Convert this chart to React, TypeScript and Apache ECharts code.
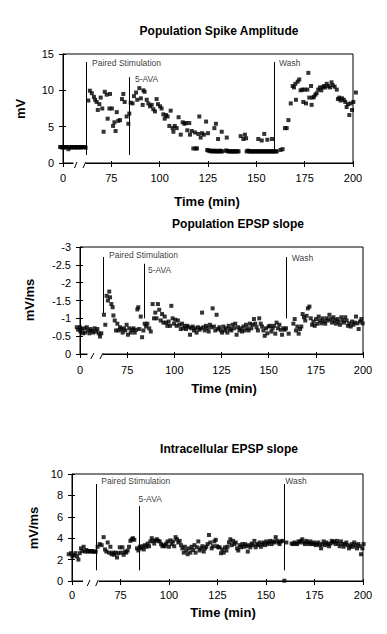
import React, { useEffect, useRef } from "react";
import * as echarts from "echarts";

const FONT = "Arial, 'Liberation Sans', sans-serif";

// x in displayed time units: 50 on the axis is labelled "0" (broken axis)
const xTickLabels: Record<number, string> = { 50: "0", 75: "75", 100: "100", 125: "125", 150: "150", 175: "175", 200: "200" };

const spikeData: [number, number][] = [
  [48.5,2.2],[49.1,2.2],[49.7,2.1],[50.3,2.2],[50.9,2.1],[51.5,2.2],[52.1,2.2],[52.8,1.9],[53.4,2.2],[54.0,2.1],[54.6,2.2],[55.2,2.2],[55.8,2.1],[56.4,2.2],[57.0,2.2],[57.6,2.1],[58.2,2.2],[58.8,2.2],[59.4,2.1],[60.0,2.2],[60.6,2.2],[61.2,2.2],[61.7,2.1],
  [63.1,8.6],[63.9,9.95],[64.9,9.6],[66.0,9.1],[66.6,8.7],[67.4,8.4],[68.0,7.3],[68.8,8.1],[69.5,9.0],[70.3,7.5],[71.0,4.3],[71.6,9.8],[72.6,9.4],[73.1,6.1],[74.3,9.5],[74.0,7.5],[75.3,7.5],[75.9,5.1],[76.6,5.6],[77.2,4.4],[77.8,7.0],[78.6,5.8],[79.5,5.9],[80.5,8.8],[81.2,9.5],[81.9,8.4],[82.9,6.4],[83.8,5.4],[84.3,6.8],[85.0,8.3],[86.0,8.2],[86.7,9.2],[87.8,9.7],[88.4,8.7],[89.5,10.3],[90.3,8.9],[91.2,8.0],[91.6,10.0],[92.2,9.8],[93.3,8.7],[94.1,8.2],[95.0,7.8],[95.9,8.0],[96.7,7.4],[97.6,7.1],[98.4,8.8],[99.1,8.1],[100.2,7.8],[101.0,7.5],[101.9,6.7],[102.6,6.1],[103.3,6.6],[104.1,6.4],[105.0,5.1],[105.7,7.2],[106.7,4.8],[107.1,4.3],[107.8,5.1],[108.8,4.8],[109.8,6.3],[110.9,3.9],[111.9,5.6],[112.8,5.4],[113.6,5.5],[114.3,4.5],[115.3,5.5],[115.7,3.9],[116.6,4.4],[117.4,2.0],[118.3,4.2],[118.6,2.0],[119.3,2.0],[120.0,4.0],[120.5,6.4],[121.2,3.5],[121.9,4.1],[122.9,3.9],[124.0,5.7],[125.0,4.1],
  [124.6,1.8],[125.2,1.7],[125.8,1.7],[126.4,1.6],[127.0,1.7],[127.6,1.6],[128.2,1.6],[128.8,1.7],[129.4,1.6],[130.0,1.6],[130.6,1.6],[131.2,1.7],[131.8,1.6],[132.4,1.6],
  [128.3,4.8],[129.1,5.4],[130.2,3.3],[132.1,4.3],[134.7,3.5],
  [134.2,1.7],[134.8,1.7],[135.4,1.6],[136.0,1.6],[136.6,1.6],[137.2,1.6],[137.8,1.6],[138.4,1.6],[139.0,1.6],[139.6,1.6],[140.2,1.6],[140.8,1.6],
  [141.9,3.7],[143.3,3.3],[144.1,3.9],[144.7,3.4],
  [145.0,1.6],[145.6,1.7],[146.2,1.6],[146.8,1.6],[147.4,1.6],[148.0,1.6],[148.6,1.6],[149.2,1.6],[149.8,1.6],[150.4,1.6],[151.0,1.6],[151.6,1.6],[152.2,1.6],[152.8,1.6],[153.4,1.6],[154.0,1.6],[154.6,1.6],[155.2,1.6],[155.8,1.6],[156.4,1.6],[157.0,1.6],[157.6,1.6],[158.2,1.6],[158.8,1.6],[159.4,1.6],[160.0,1.6],[160.6,1.6],
  [151.0,3.3],[152.8,3.1],[154.1,4.0],[155.7,3.2],[158.1,3.3],
  [162.5,1.8],[163.6,1.9],[164.8,4.8],[165.7,4.8],[166.6,5.9],[167.8,8.2],[168.8,10.6],[169.5,10.4],[170.2,10.9],[170.5,8.7],[171.4,11.2],[172.2,11.5],[172.9,10.0],[173.8,10.1],[174.3,8.4],[175.0,10.1],[175.7,8.2],[176.4,10.1],[176.9,12.4],[177.4,9.0],[178.3,10.6],[178.6,8.0],[179.1,9.0],[179.8,9.1],[180.5,9.4],[181.2,9.6],[182.0,10.1],[182.9,10.4],[183.6,10.0],[184.3,10.4],[185.0,10.6],[185.7,10.4],[186.4,10.9],[187.2,10.6],[188.1,10.4],[188.9,11.1],[189.5,10.7],[190.5,10.5],[191.6,10.1],[192.2,8.8],[192.9,9.0],[193.6,8.6],[194.3,8.9],[195.3,8.7],[196.0,8.4],[196.7,7.7],[197.4,8.1],[198.1,6.6],[198.8,8.2],[199.5,7.3],[200.2,8.4],[201.5,9.7],
];

const epspData: [number, number][] = [
  [48.3,-0.75],[49.0,-0.68],[50.0,-0.75],[50.3,-0.63],[50.9,-0.70],[51.6,-0.58],[52.3,-0.72],[52.7,-0.60],[53.6,-0.75],[54.3,-0.66],[55.0,-0.58],[55.6,-0.70],[56.3,-0.65],[57.0,-0.60],[57.7,-0.72],[58.5,-0.63],[59.2,-0.70],[59.9,-0.58],[60.6,-0.49],[61.3,-0.58],
  [62.7,-1.10],[63.4,-0.82],[64.1,-1.63],[64.8,-1.50],[65.5,-1.75],[65.9,-1.59],[66.6,-1.40],[67.3,-1.31],[67.7,-1.08],[68.4,-0.94],[69.1,-0.66],[69.8,-0.85],[70.5,-0.66],[71.2,-0.75],[71.9,-0.70],[72.6,-0.60],[73.3,-0.72],[74.0,-0.66],[74.7,-0.82],[75.4,-0.54],[76.1,-0.72],[76.9,-0.60],[77.6,-0.68],[78.3,-0.72],[79.0,-0.60],[79.7,-0.68],[80.4,-1.25],[80.9,-1.31],[81.4,-0.70],[82.2,-1.05],[82.9,-0.47],[83.6,-0.66],[84.3,-0.85],[85.0,-0.77],[85.7,-0.85],[86.7,-0.72],[87.5,-0.63],
  [88.5,-1.40],[89.2,-1.00],[89.9,-1.16],[90.6,-1.00],[91.3,-1.40],[92.0,-1.24],[92.8,-0.94],[93.5,-1.12],[94.2,-0.88],[94.9,-1.05],[95.6,-0.88],[96.3,-0.79],[97.0,-0.91],[97.7,-0.79],[98.4,-1.35],[99.1,-1.00],[99.8,-0.85],[100.5,-0.96],[101.2,-0.79],[101.9,-0.94],[102.7,-0.82],[103.4,-0.70],[104.1,-0.85],[104.8,-0.72],[105.5,-0.79],[106.2,-0.70],[106.9,-0.79],[107.6,-0.75],[108.3,-0.54],[109.0,-0.72],[109.7,-0.77],[110.4,-0.66],[111.1,-0.72],[111.8,-0.60],[112.5,-0.75],[113.3,-0.68],[114.0,-0.72],[114.7,-1.16],[115.4,-0.75],[116.1,-0.66],[116.8,-0.79],[117.5,-0.72],[118.2,-0.63],[118.9,-0.82],[119.6,-0.75],[120.3,-1.28],[121.0,-0.77],[121.7,-0.66],[122.4,-1.10],[123.1,-0.70],[123.9,-0.75],[124.6,-0.66],
  [125.3,-0.60],[126.0,-0.77],[126.7,-0.66],[127.4,-0.72],[128.1,-0.60],[128.8,-0.79],[129.5,-0.70],[130.2,-0.66],[130.9,-0.82],[131.6,-0.72],[132.3,-0.85],[133.0,-0.54],[133.7,-0.75],[134.5,-0.66],[135.2,-0.72],[135.9,-0.63],[136.6,-0.77],[137.3,-0.66],[138.0,-0.82],[138.7,-0.72],[139.4,-0.66],[140.1,-0.85],[140.8,-0.72],[141.5,-0.82],[142.2,-0.98],[142.9,-0.85],[143.6,-0.75],[144.3,-0.66],[145.0,-1.00],[145.8,-0.85],[146.5,-0.77],[147.2,-0.66],[147.9,-0.51],[148.6,-0.72],[149.3,-0.58],[150.0,-0.77],[150.7,-0.79],[151.4,-0.63],[152.1,-0.72],[152.8,-0.79],[153.5,-0.57],[154.2,-0.88],[154.9,-0.72],[155.7,-0.82],[156.4,-0.68],[157.1,-0.54],[157.8,-0.72],[158.5,-0.68],[159.2,-0.72],[160.6,-0.57],
  [163.1,-0.85],[163.8,-0.98],[164.5,-0.66],[165.2,-0.77],[165.9,-0.57],[166.6,-0.70],[167.3,-0.77],[168.0,-1.12],[168.7,-1.03],[169.4,-0.94],[170.1,-1.07],[170.8,-1.28],[171.6,-1.33],[172.3,-1.00],[173.0,-0.82],[173.7,-0.91],[174.4,-0.79],[175.1,-0.98],[175.8,-0.85],[176.5,-1.05],[177.2,-0.94],[177.9,-0.86],[178.6,-1.00],[179.3,-0.91],[180.0,-0.85],[180.7,-1.00],[181.4,-0.94],[182.2,-1.10],[182.9,-0.98],[183.6,-0.88],[184.3,-1.03],[185.0,-0.94],[185.7,-0.85],[186.4,-0.98],[187.1,-0.91],[187.8,-0.82],[188.5,-1.03],[189.2,-0.94],[189.9,-0.88],[190.6,-1.03],[191.3,-0.94],[192.0,-0.79],[192.7,-0.86],[193.5,-0.77],[194.2,-0.91],[194.9,-0.82],[195.6,-0.88],[196.3,-1.05],[197.0,-0.86],[197.7,-0.70],[198.4,-0.91],[199.1,-0.98],[199.8,-0.86],
];

const intraData: [number, number][] = [
  [48.3,2.5],[49.5,2.6],[50.2,2.3],[50.9,2.4],[51.7,2.6],[52.6,2.3],[53.3,2.0],[54.0,2.6],[54.6,3.05],[55.3,2.8],[56.0,3.2],[56.7,2.75],[57.4,2.9],[58.1,2.75],[58.8,2.8],[59.5,2.75],[60.1,2.8],[60.8,2.75],[61.5,2.75],[62.2,2.75],
  [63.2,3.2],[64.3,3.45],[65.3,3.35],[66.3,4.1],[67.0,2.95],[67.7,2.75],[68.4,3.6],[69.1,2.65],[69.8,3.2],[70.4,2.5],[71.1,2.65],[71.8,2.45],[72.5,2.65],[73.2,2.2],[73.9,2.6],[74.6,3.15],[75.3,2.65],[76.0,3.15],[76.6,2.45],[77.3,2.75],[78.0,2.65],[78.7,2.85],[79.4,3.2],[80.1,3.75],[80.8,3.9],[81.4,4.0],[82.1,3.85],[83.5,3.05],[84.2,2.85],[84.9,3.2],[85.6,3.05],[86.3,3.25],[87.0,2.95],[87.6,3.35],[88.3,3.2],[89.0,3.5],[89.7,3.25],[90.4,3.7],[91.1,4.0],[91.8,3.75],[92.4,3.5],[93.1,3.8],[93.8,3.9],[94.5,3.75],[95.2,3.7],[95.9,3.45],[96.6,3.25],[97.3,3.35],[97.9,3.25],[98.6,3.5],[99.3,3.7],[100.0,3.2],[100.7,3.8],[101.4,3.45],[102.1,3.7],[102.7,3.25],[103.4,4.1],[104.1,3.9],[104.8,3.6],[105.5,3.75],[106.2,3.35],[106.9,3.05],[107.6,2.65],[108.2,3.2],[108.9,2.85],[109.6,2.5],[110.3,3.05],[111.0,2.65],[111.7,3.2],[112.4,2.9],[113.1,3.35],[113.7,2.65],[114.4,3.15],[115.1,3.7],[115.8,2.85],[116.5,3.05],[117.2,3.25],[117.9,2.75],[118.6,3.05],[119.2,3.2],[119.9,3.45],[120.6,4.3],[121.3,3.6],[122.0,3.05],[122.7,3.25],[123.4,3.7],[124.1,3.85],[124.7,3.25],
  [125.4,3.15],[126.1,3.15],[126.8,2.6],[127.5,2.95],[128.2,2.65],[128.9,3.15],[129.6,2.85],[130.2,3.2],[130.9,3.6],[131.6,3.9],[132.3,3.35],[133.0,3.75],[133.7,3.45],[134.4,3.6],[135.1,3.05],[135.7,2.85],[136.4,3.35],[137.1,3.15],[137.8,3.45],[138.5,3.2],[139.2,3.45],[139.9,3.25],[140.6,2.75],[141.2,3.35],[141.9,3.15],[142.6,3.5],[143.3,3.35],[144.0,3.75],[144.7,3.15],[145.4,3.45],[146.0,3.35],[146.7,3.6],[147.4,3.2],[148.1,3.45],[148.8,3.6],[149.5,3.35],[150.2,3.7],[150.9,3.45],[151.5,3.6],[152.2,3.75],[152.9,3.45],[153.6,3.7],[154.3,3.6],[155.0,4.1],[155.7,3.75],[156.4,3.6],[157.0,3.45],[157.7,3.7],[158.4,3.75],[159.5,0.03],[160.5,3.6],
  [163.2,3.5],[163.9,3.45],[164.6,3.6],[165.3,3.5],[166.0,3.45],[166.7,3.7],[167.4,3.6],[168.0,3.75],[168.7,3.9],[169.4,3.6],[170.1,3.45],[170.8,3.75],[171.5,3.6],[172.2,3.45],[172.9,3.7],[173.5,3.5],[174.2,3.45],[174.9,3.6],[175.6,3.35],[176.3,3.45],[177.0,3.6],[177.7,3.35],[178.4,3.05],[179.0,3.45],[179.7,3.7],[180.4,3.35],[181.1,3.6],[181.8,3.45],[182.5,3.25],[183.2,3.5],[183.9,3.75],[184.5,3.6],[185.2,3.7],[185.9,3.45],[186.6,3.75],[187.3,3.5],[188.0,3.25],[188.7,3.7],[189.4,3.45],[190.0,3.2],[190.7,3.45],[191.4,3.6],[192.1,3.35],[192.8,3.05],[193.5,3.25],[194.2,3.45],[194.8,3.2],[195.5,3.6],[196.2,3.35],[196.9,3.05],[197.6,3.45],[198.3,3.25],[199.0,2.5],[199.7,3.05],[200.3,3.45],
];

type Ev = { name: string; x: number; y0: number; y1: number; lx: number; ly: number };

const spikeEvents: Ev[] = [
  { name: "Paired Stimulation", x: 61.9, y0: 1.1, y1: 13.9, lx: 65.0, ly: 13.76 },
  { name: "5-AVA", x: 84.3, y0: 1.1, y1: 11.8, lx: 87.2, ly: 11.56 },
  { name: "Wash", x: 159.3, y0: 1.8, y1: 13.9, lx: 161.7, ly: 13.76 },
];
const epspEvents: Ev[] = [
  { name: "Paired Stimulation", x: 62.4, y0: -1.15, y1: -2.72, lx: 65.4, ly: -2.77 },
  { name: "5-AVA", x: 84.1, y0: -1.0, y1: -2.53, lx: 86.0, ly: -2.35 },
  { name: "Wash", x: 159.2, y0: -1.0, y1: -2.72, lx: 162.3, ly: -2.69 },
];
const intraEvents: Ev[] = [
  { name: "Paired Stimulation", x: 62.7, y0: 1.0, y1: 9.07, lx: 65.1, ly: 9.35 },
  { name: "5-AVA", x: 84.9, y0: 1.0, y1: 7.0, lx: 84.3, ly: 7.66 },
  { name: "Wash", x: 159.4, y0: 1.0, y1: 9.07, lx: 159.9, ly: 9.35 },
];

const panels = [
  {
    title: "Population Spike Amplitude", yName: "mV", data: spikeData, events: spikeEvents,
    yMin: 0, yMax: 15, yInt: 5, inverse: false, xMargin: 14,
    grid: { left: 63, top: 54, width: 290, height: 109 },
    titlePos: [219, 31], xNamePos: [207, 201], yNamePos: [20, 109],
    brk: { gap: [73.5, 85.8], s1: [74.5, 77], s2: [83, 85.8] },
  },
  {
    title: "Population EPSP slope", yName: "mV/ms", data: epspData, events: epspEvents,
    yMin: -3, yMax: 0, yInt: 0.5, inverse: true, xMargin: 15,
    grid: { left: 80, top: 247, width: 283, height: 107 },
    titlePos: [238, 224], xNamePos: [224, 388], yNamePos: [29, 300],
    brk: { gap: [87.5, 103], s1: [90.7, 94], s2: [100, 103] },
  },
  {
    title: "Intracellular EPSP slope", yName: "mV/ms", data: intraData, events: intraEvents,
    yMin: 0, yMax: 10, yInt: 2, inverse: false, xMargin: 13,
    grid: { left: 72, top: 474, width: 291, height: 107 },
    titlePos: [229, 449], xNamePos: [223, 612], yNamePos: [33, 528],
    brk: { gap: [83, 99], s1: [87.3, 90], s2: [95.7, 98.3] },
  },
];

function buildOption() {
  const grid: any[] = [];
  const xAxis: any[] = [];
  const yAxis: any[] = [];
  const series: any[] = [];
  const graphic: any[] = [];

  panels.forEach((p, i) => {
    grid.push({ ...p.grid, show: true, borderColor: "#000", borderWidth: 1, backgroundColor: "transparent" });
    const xBase = { gridIndex: i, type: "value", min: 50, max: 200, interval: 25, position: "bottom", splitLine: { show: false } };
    xAxis.push({
      ...xBase,
      axisLine: { show: true, onZero: false, lineStyle: { color: "#000", width: 1 } },
      axisTick: { show: true, length: 4, lineStyle: { color: "#000", width: 1 } },
      axisLabel: {
        formatter: (v: number) => xTickLabels[v] ?? String(v),
        fontSize: 11, lineHeight: 11, color: "#000", margin: p.xMargin - 5, fontFamily: FONT,
      },
    });
    xAxis.push({
      ...xBase,
      axisLine: { show: false, onZero: false },
      axisTick: { show: true, inside: true, length: 2, lineStyle: { color: "#000", width: 1 } },
      axisLabel: { show: false },
    });
    const yBase = { gridIndex: i, type: "value", min: p.yMin, max: p.yMax, interval: p.yInt, inverse: p.inverse, position: "left", splitLine: { show: false } };
    yAxis.push({
      ...yBase,
      axisLine: { show: true, onZero: false, lineStyle: { color: "#000", width: 1 } },
      axisTick: { show: true, length: 4, lineStyle: { color: "#000", width: 1 } },
      axisLabel: { fontSize: 11, lineHeight: 11, color: "#000", margin: 9, fontFamily: FONT },
    });
    yAxis.push({
      ...yBase,
      axisLine: { show: false, onZero: false },
      axisTick: { show: true, inside: true, length: 3, lineStyle: { color: "#000", width: 1 } },
      axisLabel: { show: false },
    });

    series.push({
      type: "scatter",
      xAxisIndex: i * 2,
      yAxisIndex: i * 2,
      data: p.data,
      symbol: "rect",
      symbolSize: 4,
      clip: false,
      itemStyle: { color: "#000" },
      silent: true,
      markLine: {
        silent: true,
        symbol: ["none", "none"],
        label: { show: false },
        lineStyle: { color: "#000", width: 1, type: "solid" },
        data: p.events.map((e) => [{ coord: [e.x, e.y0] }, { coord: [e.x, e.y1] }]),
      },
    });
    series.push({
      type: "scatter",
      xAxisIndex: i * 2,
      yAxisIndex: i * 2,
      data: p.events.map((e) => ({ name: e.name, value: [e.lx, e.ly] })),
      symbolSize: 0,
      silent: true,
      label: {
        show: true, position: "right", distance: 0, formatter: "{b}",
        fontSize: 8.5, color: "#000", fontFamily: FONT,
      },
    });

    graphic.push({
      type: "text", x: p.titlePos[0], y: p.titlePos[1], z: 100,
      style: { text: p.title, fontSize: 12, fontWeight: "bold", fill: "#000", fontFamily: FONT, align: "center", verticalAlign: "middle" },
    });
    graphic.push({
      type: "text", x: p.xNamePos[0], y: p.xNamePos[1], z: 100,
      style: { text: "Time (min)", fontSize: 13, lineHeight: 13, fontWeight: "bold", fill: "#000", fontFamily: FONT, align: "center", verticalAlign: "middle" },
    });
    graphic.push({
      type: "text", x: p.yNamePos[0], y: p.yNamePos[1], rotation: Math.PI / 2, z: 100,
      style: { text: p.yName, fontSize: 13, fontWeight: "bold", fill: "#000", fontFamily: FONT, align: "center", verticalAlign: "middle" },
    });
    const by = p.grid.top + p.grid.height;
    graphic.push({
      type: "rect", z: 100,
      shape: { x: p.brk.gap[0], y: by - 3, width: p.brk.gap[1] - p.brk.gap[0], height: 6 },
      style: { fill: "#fff" },
    });
    graphic.push({
      type: "line", z: 101,
      shape: { x1: p.brk.s1[0], y1: by + 5, x2: p.brk.s1[1], y2: by - 1 },
      style: { stroke: "#000", lineWidth: 1 },
    });
    graphic.push({
      type: "line", z: 101,
      shape: { x1: p.brk.s2[0], y1: by + 5, x2: p.brk.s2[1], y2: by - 1 },
      style: { stroke: "#000", lineWidth: 1 },
    });
  });

  return { animation: false, backgroundColor: "#fff", grid, xAxis, yAxis, series, graphic };
}

export default function App() {
  const ref = useRef<HTMLDivElement>(null);
  useEffect(() => {
    if (!ref.current) return;
    const chart = echarts.init(ref.current, undefined, { renderer: "svg" });
    chart.setOption(buildOption() as any);
    return () => chart.dispose();
  }, []);
  return <div ref={ref} style={{ position: "absolute", left: 0, top: 0, width: 387, height: 634, background: "#fff" }} />;
}
